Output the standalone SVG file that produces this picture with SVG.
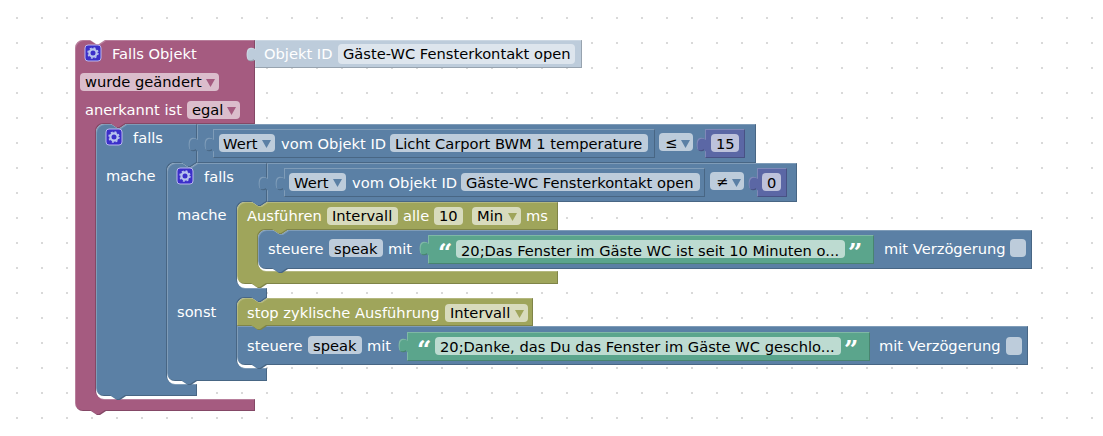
<svg xmlns="http://www.w3.org/2000/svg" width="1103" height="436" viewBox="0 0 1103 436">
<defs>
<pattern id="grid" width="25" height="25" patternUnits="userSpaceOnUse" x="16" y="17"><rect x="0" y="0.5" width="2" height="1" fill="#ccc"/><rect x="0.5" y="0" width="1" height="2" fill="#ccc"/></pattern>
<filter id="bevel" x="-2%" y="-5%" width="104%" height="110%" color-interpolation-filters="sRGB">
<feOffset in="SourceAlpha" dx="1" dy="1" result="o1"/>
<feComposite in="SourceAlpha" in2="o1" operator="out" result="tl"/>
<feFlood flood-color="#fff" flood-opacity=".22"/><feComposite in2="tl" operator="in" result="lite"/>
<feOffset in="SourceAlpha" dx="-1" dy="-1" result="o2"/>
<feComposite in="SourceAlpha" in2="o2" operator="out" result="br"/>
<feFlood flood-color="#000" flood-opacity=".2"/><feComposite in2="br" operator="in" result="dark"/>
<feMerge><feMergeNode in="SourceGraphic"/><feMergeNode in="lite"/><feMergeNode in="dark"/></feMerge>
</filter>
<g id="gear"><rect x="-8" y="-8" width="16" height="16" rx="3" fill="#3b2fc9" stroke="#b9b6ee" stroke-width="1"/><circle r="3.6" fill="none" stroke="#b9c4ee" stroke-width="2.2"/><circle r="5" fill="none" stroke="#b9c4ee" stroke-width="1.4" stroke-dasharray="2 1.93"/></g>
</defs>
<style>
.pk{fill:#a55b80}.bl{fill:#5b80a5}.ol{fill:#9fa55b}.gr{fill:#5ba58c}.pu{fill:#5b67a5}.id{fill:#bdccdb}
.b{filter:url(#bevel)}
text{font-family:"DejaVu Sans",sans-serif;font-size:14.67px}
.l{fill:#fff}.t{fill:#000}
.f{fill:#fff;fill-opacity:.6}
.q{font-family:"DejaVu Serif",serif;font-weight:700;font-size:25px;fill:#fff}
.ap{fill:#a55b80}.ab{fill:#5b80a5}.ao{fill:#9fa55b}
</style>
<rect width="1103" height="436" fill="#fff"/>
<rect width="1103" height="436" fill="url(#grid)"/>

<g id="trigger-block">
<path class="pk b" d="M75,48a8,8 0 0 1 8,-8H90l6,4h3l6,-4H255V124H126l-6,4h-3l-6,-4H104a8,8 0 0 0 -8,8V391a8,8 0 0 0 8,8H255V411H106l-6,4h-3l-6,-4H83a8,8 0 0 1 -8,-8Z"/>
<use href="#gear" x="93" y="53"/>
<text class="l" x="112" y="59">Falls Objekt</text>
<rect class="f" x="80" y="73" width="139" height="18" rx="4"/>
<text class="t" x="85" y="87">wurde geändert</text>
<path class="ap" d="M206,79h9l-4.500,8Z"/>
<text class="l" x="85" y="115">anerkannt ist</text>
<rect class="f" x="187" y="101" width="53" height="18" rx="4"/>
<text class="t" x="192" y="115">egal</text>
<path class="ap" d="M227,107h9l-4.500,8Z"/>
</g>

<g id="object-id-block">
<path class="id b" d="M255,40H582V68H255V60c-3,2 -7,2 -8,-2c-.5,-2 -.5,-5 0,-7c1,-4 5,-4 8,-2Z"/>
<text class="l" x="264" y="59">Objekt ID</text>
<rect x="338" y="44" width="237" height="20" rx="4" fill="#dde5ed"/>
<text class="t" x="343" y="59">Gäste-WC Fensterkontakt open</text>
</g>

<g id="if-outer">
<path class="bl b" d="M96,132a8,8 0 0 1 8,-8H111l6,4h3l6,-4H197V163H197l-6,4h-3l-6,-4H175a8,8 0 0 0 -8,8V376a8,8 0 0 0 8,8H197V396H126l-6,4h-3l-6,-4H104a8,8 0 0 1 -8,-8Z"/>
<use href="#gear" x="114" y="137"/>
<text class="l" x="133" y="143">falls</text>
<text class="l" x="106" y="181">mache</text>
</g>

<g id="compare-outer">
<path class="bl b" d="M197,124H756V163H197V150c-3,2 -7,2 -8,-2c-.5,-2 -.5,-5 0,-7c1,-4 5,-4 8,-2Z"/>
<path class="bl b" d="M213,129H655V158H213V150c-3,2 -7,2 -8,-2c-.5,-2 -.5,-5 0,-7c1,-4 5,-4 8,-2Z"/>
<rect class="f" x="219" y="134" width="56" height="18" rx="4"/>
<text class="t" x="223" y="149">Wert</text>
<path class="ab" d="M262,140h9l-4.500,8Z"/>
<text class="l" x="281" y="149">vom Objekt ID</text>
<rect class="f" x="390" y="134" width="258" height="18" rx="4"/>
<text class="t" x="395" y="149">Licht Carport BWM 1 temperature</text>
<rect class="f" x="659" y="133" width="34" height="18" rx="4"/>
<text class="t" x="665" y="148">≤</text>
<path class="ab" d="M681,140h9l-4.500,8Z"/>
<path class="pu b" d="M705,129H745V158H705V150c-3,2 -7,2 -8,-2c-.5,-2 -.5,-5 0,-7c1,-4 5,-4 8,-2Z"/>
<rect class="f" x="711" y="134" width="28" height="18" rx="4"/>
<text class="t" x="716" y="149">15</text>
</g>

<g id="if-inner">
<path class="bl b" d="M167,171a8,8 0 0 1 8,-8H182l6,4h3l6,-4H267V202l-6,4h-3l-6,-4H245a8,8 0 0 0 -8,8V280a8,8 0 0 0 8,8H267V298l-6,4h-3l-6,-4H245a8,8 0 0 0 -8,8V360a8,8 0 0 0 8,8H267V381H197l-6,4h-3l-6,-4H175a8,8 0 0 1 -8,-8Z"/>
<use href="#gear" x="185" y="176"/>
<text class="l" x="204" y="182">falls</text>
<text class="l" x="177" y="220">mache</text>
<text class="l" x="177" y="317">sonst</text>
</g>

<g id="compare-inner">
<path class="bl b" d="M267,163H797V202H267V189c-3,2 -7,2 -8,-2c-.5,-2 -.5,-5 0,-7c1,-4 5,-4 8,-2Z"/>
<path class="bl b" d="M284,168H705V197H284V189c-3,2 -7,2 -8,-2c-.5,-2 -.5,-5 0,-7c1,-4 5,-4 8,-2Z"/>
<rect class="f" x="289" y="173" width="57" height="18" rx="4"/>
<text class="t" x="294" y="188">Wert</text>
<path class="ab" d="M333,179h9l-4.500,8Z"/>
<text class="l" x="352" y="188">vom Objekt ID</text>
<rect class="f" x="461" y="173" width="239" height="18" rx="4"/>
<text class="t" x="466" y="188">Gäste-WC Fensterkontakt open</text>
<rect class="f" x="710" y="172" width="34" height="18" rx="4"/>
<text class="t" x="716" y="187">≠</text>
<path class="ab" d="M732,179h9l-4.500,8Z"/>
<path class="pu b" d="M757,168H787V197H757V189c-3,2 -7,2 -8,-2c-.5,-2 -.5,-5 0,-7c1,-4 5,-4 8,-2Z"/>
<rect class="f" x="762" y="173" width="19" height="18" rx="4"/>
<text class="t" x="767" y="188">0</text>
</g>

<g id="interval-block">
<path class="ol b" d="M237,210a8,8 0 0 1 8,-8H252l6,4h3l6,-4H558V230H288l-6,4h-3l-6,-4H266a8,8 0 0 0 -8,8V263a8,8 0 0 0 8,8H558V284H267l-6,4h-3l-6,-4H245a8,8 0 0 1 -8,-8Z"/>
<text class="l" x="247" y="221">Ausführen</text>
<rect class="f" x="327" y="207" width="71" height="18" rx="4"/>
<text class="t" x="332" y="221">Intervall</text>
<text class="l" x="403" y="221">alle</text>
<rect class="f" x="434" y="207" width="29" height="18" rx="4"/>
<text class="t" x="439" y="221">10</text>
<rect class="f" x="472" y="207" width="49" height="18" rx="4"/>
<text class="t" x="477" y="221">Min</text>
<path class="ao" d="M508,213h9l-4.500,8Z"/>
<text class="l" x="526" y="221">ms</text>
</g>

<g id="speak-1">
<path class="bl b" d="M258,238a8,8 0 0 1 8,-8H273l6,4h3l6,-4H1032V269H288l-6,4h-3l-6,-4H266a8,8 0 0 1 -8,-8Z"/>
<text class="l" x="268" y="254">steuere</text>
<rect class="f" x="329" y="239" width="54" height="18" rx="4"/>
<text class="t" x="334" y="254">speak</text>
<text class="l" x="388" y="254">mit</text>
<path class="gr b" d="M428,235H874V264H428V254c-3,2 -7,2 -8,-2c-.5,-2 -.5,-5 0,-7c1,-4 5,-4 8,-2Z"/>
<text class="q" x="438" y="261">“</text>
<rect class="f" x="456" y="240" width="389" height="18" rx="4"/>
<text class="t" x="461" y="256">20;Das Fenster im Gäste WC ist seit 10 Minuten o...</text>
<text class="q" x="848" y="261">”</text>
<text class="l" x="884" y="254">mit Verzögerung</text>
<rect x="1010" y="239" width="16" height="18" rx="4" fill="#bdccdb"/>
</g>

<g id="speak-2">
<path class="bl b" d="M237,326H1028V365H267l-6,4h-3l-6,-4H245a8,8 0 0 1 -8,-8Z"/>
<text class="l" x="247" y="351">steuere</text>
<rect class="f" x="308" y="336" width="54" height="18" rx="4"/>
<text class="t" x="313" y="351">speak</text>
<text class="l" x="367" y="351">mit</text>
<path class="gr b" d="M407,332H870V361H407V351c-3,2 -7,2 -8,-2c-.5,-2 -.5,-5 0,-7c1,-4 5,-4 8,-2Z"/>
<text class="q" x="417" y="358">“</text>
<rect class="f" x="435" y="337" width="406" height="18" rx="4"/>
<text class="t" x="440" y="352">20;Danke, das Du das Fenster im Gäste WC geschlo...</text>
<text class="q" x="844" y="358">”</text>
<text class="l" x="879" y="351">mit Verzögerung</text>
<rect x="1006" y="337" width="16" height="18" rx="4" fill="#bdccdb"/>
</g>

<g id="stop-block">
<path class="ol b" d="M237,306a8,8 0 0 1 8,-8H252l6,4h3l6,-4H533V326H267l-6,4h-3l-6,-4H237Z"/>
<text class="l" x="247" y="318">stop zyklische Ausführung</text>
<rect class="f" x="445" y="304" width="83" height="18" rx="4"/>
<text class="t" x="450" y="318">Intervall</text>
<path class="ao" d="M515,310h9l-4.500,8Z"/>
</g>
</svg>
